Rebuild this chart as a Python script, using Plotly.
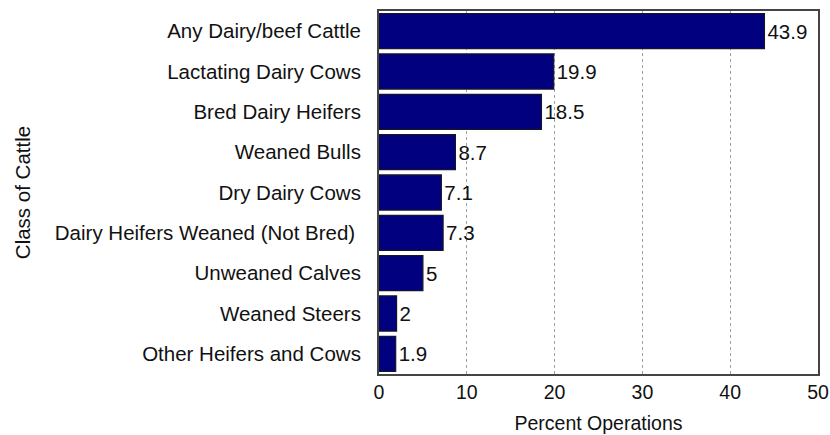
import plotly.graph_objects as go

categories = [
    "Any Dairy/beef Cattle",
    "Lactating Dairy Cows",
    "Bred Dairy Heifers",
    "Weaned Bulls",
    "Dry Dairy Cows",
    "Dairy Heifers Weaned (Not Bred) ",
    "Unweaned Calves",
    "Weaned Steers",
    "Other Heifers and Cows",
]
percent_operations = [43.9, 19.9, 18.5, 8.7, 7.1, 7.3, 5, 2, 1.9]
label_text = ["43.9", "19.9", "18.5", "8.7", "7.1", "7.3", "5", "2", "1.9"]
x_ticks = [0, 10, 20, 30, 40, 50]

FONT = "Liberation Sans, Arial, sans-serif"

fig = go.Figure()
fig.add_trace(go.Bar(
    y=categories, x=percent_operations, orientation="h",
    marker=dict(color="#010180", line=dict(color="#15152a", width=1.2)),
    text=label_text, textposition="outside", cliponaxis=False,
    textfont=dict(family=FONT, size=20.5, color="#111111"),
    hoverinfo="skip",
))
fig.update_layout(
    width=830, height=435,
    margin=dict(l=379, r=12, t=11, b=61),
    paper_bgcolor="white", plot_bgcolor="white",
    bargap=0.13, showlegend=False,
    font=dict(family=FONT, size=20.5, color="#111111"),
    xaxis=dict(
        range=[0, 50], tickvals=x_ticks, ticks="", automargin=False,
        showgrid=True, gridcolor="#a0a0a0", griddash="dot", gridwidth=1,
        zeroline=False, showline=True, linecolor="#444444", linewidth=2, mirror=True,
        tickfont=dict(size=19.5),
        title=dict(text="Percent Operations", font=dict(size=19.5), standoff=14),
    ),
    yaxis=dict(
        autorange="reversed", ticks="", ticklabelstandoff=12, automargin=False,
        showline=True, linecolor="#444444", linewidth=2, mirror=True,
        title=dict(text="Class of Cattle", font=dict(size=20.5), standoff=19),
    ),
)

# drop the default page margin so the 830x435 figure fills the window exactly
fig.write_html(
    "out.html",
    config={"displayModeBar": False},
    post_script="document.body.style.margin = '0';",
)
